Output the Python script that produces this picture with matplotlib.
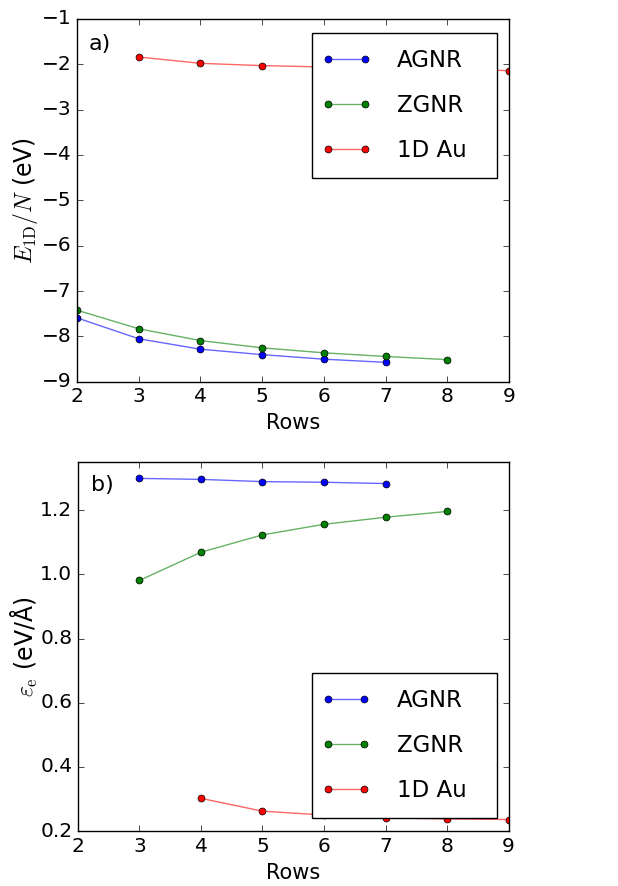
import numpy as np
import matplotlib
matplotlib.use("Agg")
import matplotlib.pyplot as plt
from matplotlib.lines import Line2D
from matplotlib.legend_handler import HandlerLine2D

plt.style.use("classic")
plt.rcParams["mathtext.fontset"] = "cm"
plt.rcParams["font.size"] = 15
plt.rcParams["xtick.labelsize"] = 14.5
plt.rcParams["ytick.labelsize"] = 14.5
plt.rcParams["savefig.facecolor"] = "white"

# energy per atom (eV) vs number of rows
rows_agnr = [2, 3, 4, 5, 6, 7]
e_agnr = [-7.59, -8.05, -8.28, -8.40, -8.50, -8.57]
rows_zgnr = [2, 3, 4, 5, 6, 7, 8]
e_zgnr = [-7.42, -7.83, -8.09, -8.25, -8.36, -8.44, -8.51]
rows_au = [3, 4, 5, 6, 7, 8, 9]
e_au = [-1.84, -1.98, -2.03, -2.06, -2.09, -2.11, -2.14]

# edge energy (eV/Angstrom) vs number of rows
rows_agnr_b = [3, 4, 5, 6, 7]
eps_agnr = [1.299, 1.296, 1.289, 1.287, 1.283]
rows_zgnr_b = [3, 4, 5, 6, 7, 8]
eps_zgnr = [0.981, 1.069, 1.123, 1.156, 1.178, 1.196]
rows_au_b = [4, 5, 6, 7, 8, 9]
eps_au = [0.302, 0.262, 0.250, 0.241, 0.238, 0.236]

labels = ["AGNR", "ZGNR", "1D Au"]
colors = ["b", "g", "r"]

leg_kw = dict(numpoints=2, fontsize=16.5, handlelength=1.6, handletextpad=1.4,
              labelspacing=0.96, borderpad=0.7, borderaxespad=0, mode="expand",
              handler_map={Line2D: HandlerLine2D(marker_pad=0)})


def draw(ax, xs, ys):
    for x, y, c, lab in zip(xs, ys, colors, labels):
        line, = ax.plot(x, y, "-o", color=c, label=lab, markersize=5,
                        markeredgewidth=0.5, markeredgecolor="k", lw=1.0)
        line.set_color(matplotlib.colors.to_rgba(c, 0.6))
        line.set_markerfacecolor(c)


fig = plt.figure(figsize=(6.18, 8.86), dpi=100)
ax1 = fig.add_axes([0.1246, 0.569, 0.699, 0.4097])
ax2 = fig.add_axes([0.126, 0.062, 0.697, 0.4165])

draw(ax1, [rows_agnr, rows_zgnr, rows_au], [e_agnr, e_zgnr, e_au])
ax1.set_xlim(2, 9)
ax1.set_ylim(-9, -1)
ax1.set_xlabel("Rows")
ax1.set_ylabel(r"$E_{\rm 1D}/N$ (eV)", fontsize=17)
ax1.yaxis.set_label_coords(-0.085, 0.5)
ax1.text(0.027, 0.93, "a)", transform=ax1.transAxes, va="center", fontsize=16)
ax1.legend(loc="upper left", bbox_to_anchor=(0.544, 0.961, 0.428, 0), **leg_kw)

draw(ax2, [rows_agnr_b, rows_zgnr_b, rows_au_b], [eps_agnr, eps_zgnr, eps_au])
ax2.set_xlim(2, 9)
ax2.set_ylim(0.2, 1.35)
ax2.set_yticks([0.2, 0.4, 0.6, 0.8, 1.0, 1.2])
ax2.set_xlabel("Rows")
ax2.set_ylabel(r"$\varepsilon_{\rm e}$ (eV/Å)", fontsize=17)
ax2.yaxis.set_label_coords(-0.088, 0.5)
ax2.text(0.03, 0.937, "b)", transform=ax2.transAxes, va="center", fontsize=16)
ax2.legend(loc="lower left", bbox_to_anchor=(0.543, 0.035, 0.431, 0), **leg_kw)

fig.savefig("out.png", dpi=100)
